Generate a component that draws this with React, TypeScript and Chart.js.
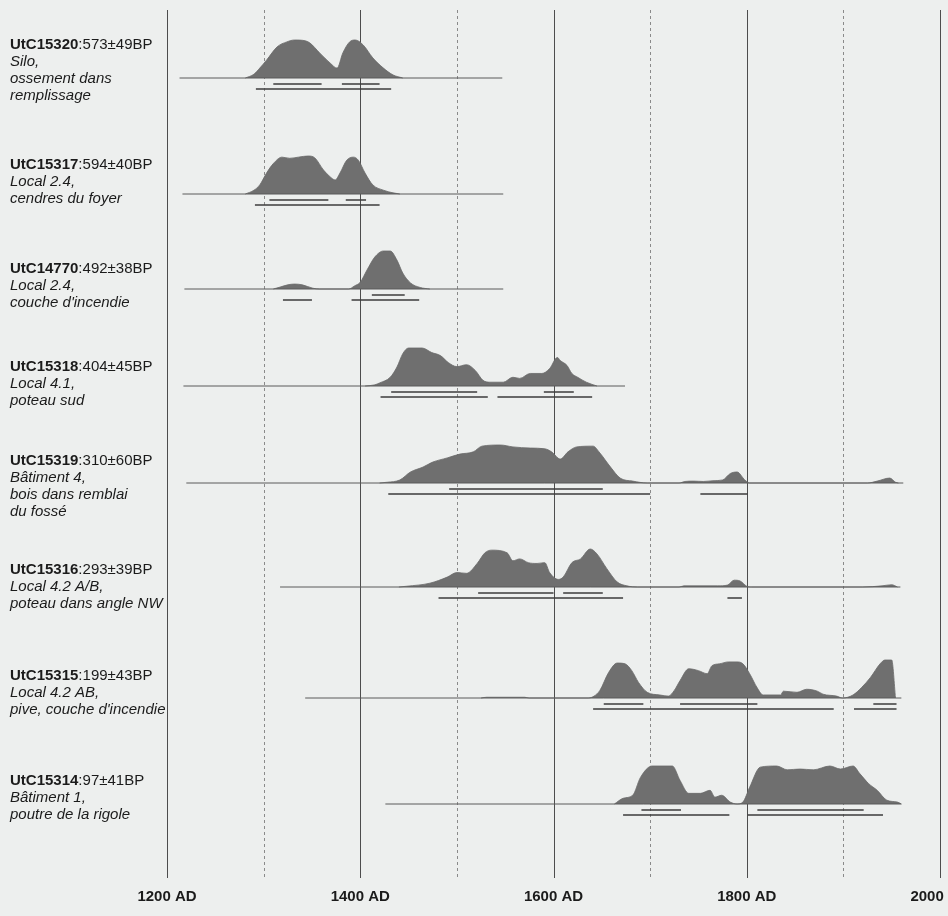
import React, { useEffect, useRef } from 'react';
import { Chart, registerables } from 'chart.js';

Chart.register(...registerables);

// ---------- DATA ----------
const SAMPLE_IDS = ['UtC15320', 'UtC15317', 'UtC14770', 'UtC15318', 'UtC15319', 'UtC15316', 'UtC15315', 'UtC15314'];
const SAMPLE_AGES = [':573±49BP', ':594±40BP', ':492±38BP', ':404±45BP', ':310±60BP', ':293±39BP', ':199±43BP', ':97±41BP'];
const SAMPLE_CONTEXTS = [
  ['Silo,', 'ossement dans', 'remplissage'],
  ['Local 2.4,', 'cendres du foyer'],
  ['Local 2.4,', "couche d'incendie"],
  ['Local 4.1,', 'poteau sud'],
  ['Bâtiment 4,', 'bois dans remblai', 'du fossé'],
  ['Local 4.2 A/B,', 'poteau dans angle NW'],
  ['Local 4.2 AB,', "pive, couche d'incendie"],
  ['Bâtiment 1,', 'poutre de la rigole'],
];

const X_TICKS = [1200, 1400, 1600, 1800, 2000];
const X_TICK_LABELS = ['1200 AD', '1400 AD', '1600 AD', '1800 AD', '2000 AD'];
const GRID_YEARS = [1200, 1300, 1400, 1500, 1600, 1700, 1800, 1900, 2000];

// baseline spans [from, to] (calendar years)
const SPANS = [
  [1213, 1547], [1216, 1548], [1218, 1548], [1217, 1674],
  [1220, 1962], [1317, 1959], [1343, 1960], [1426, 1960],
];

// probability curves: [year, relative probability]
const CURVE_15320 = [[1281,0],[1290,0.1],[1296,0.26],[1303,0.47],[1314,0.82],[1324,0.95],[1332,1],[1343,0.98],[1348,0.92],[1358,0.66],[1369,0.39],[1376,0.26],[1382,0.66],[1389,0.95],[1395,1],[1403,0.87],[1413,0.53],[1424,0.26],[1434,0.08],[1444,0]];
const CURVE_15317 = [[1281,0],[1290,0.1],[1296,0.24],[1303,0.55],[1310,0.8],[1319,0.97],[1327,0.94],[1336,0.97],[1346,1],[1353,0.95],[1362,0.63],[1369,0.45],[1374,0.37],[1379,0.55],[1386,0.89],[1393,0.97],[1398,0.89],[1405,0.55],[1413,0.24],[1424,0.1],[1434,0.03],[1441,0]];
const CURVE_14770 = [[1310,0],[1317,0.05],[1325,0.11],[1332,0.13],[1340,0.11],[1351,0.02],[1358,0],[1388,0],[1394,0.08],[1400,0.18],[1407,0.5],[1415,0.84],[1424,1],[1431,1],[1438,0.76],[1444,0.42],[1452,0.16],[1462,0.04],[1472,0]];
const CURVE_15318 = [[1405,0],[1415,0.03],[1420,0.08],[1431,0.23],[1438,0.5],[1444,0.85],[1450,1],[1464,1],[1474,0.88],[1483,0.8],[1491,0.62],[1500,0.51],[1510,0.56],[1519,0.41],[1527,0.15],[1534,0.1],[1548,0.1],[1558,0.23],[1565,0.2],[1576,0.33],[1588,0.33],[1596,0.46],[1604,0.75],[1607,0.67],[1614,0.54],[1619,0.33],[1625,0.23],[1634,0.1],[1645,0]];
const CURVE_15319 = [[1420,0],[1428,0.02],[1441,0.08],[1452,0.29],[1465,0.42],[1475,0.55],[1490,0.66],[1503,0.76],[1517,0.82],[1526,0.97],[1545,1],[1558,0.95],[1576,0.92],[1591,0.9],[1598,0.82],[1607,0.63],[1615,0.82],[1624,0.95],[1641,0.97],[1648,0.79],[1659,0.42],[1669,0.13],[1682,0.05],[1697,0],[1730,0],[1736,0.04],[1745,0.05],[1755,0.04],[1765,0.06],[1775,0.08],[1783,0.25],[1790,0.29],[1798,0.08],[1803,0],[1925,0],[1935,0.05],[1948,0.13],[1954,0.02],[1957,0]];
const CURVE_15316 = [[1440,0],[1448,0.02],[1472,0.1],[1490,0.26],[1500,0.38],[1510,0.36],[1521,0.62],[1529,0.9],[1536,0.97],[1552,0.9],[1558,0.69],[1565,0.74],[1574,0.64],[1583,0.62],[1591,0.64],[1596,0.38],[1605,0.2],[1610,0.26],[1619,0.64],[1628,0.74],[1638,1],[1645,0.87],[1655,0.49],[1666,0.13],[1676,0.03],[1687,0],[1730,0],[1735,0.03],[1770,0.03],[1780,0.05],[1787,0.18],[1793,0.16],[1800,0.02],[1805,0],[1920,0],[1940,0.03],[1950,0.06],[1956,0]];
const CURVE_15315 = [[1525,0],[1531,0.02],[1570,0.02],[1575,0],[1636,0],[1642,0.05],[1648,0.2],[1657,0.67],[1666,0.92],[1674,0.9],[1681,0.72],[1688,0.41],[1697,0.15],[1710,0.08],[1719,0.05],[1725,0.2],[1731,0.46],[1740,0.77],[1750,0.72],[1759,0.64],[1764,0.85],[1772,0.9],[1781,0.95],[1790,0.95],[1796,0.9],[1803,0.64],[1811,0.26],[1817,0.08],[1835,0.08],[1838,0.18],[1852,0.15],[1862,0.23],[1873,0.18],[1879,0.1],[1893,0.05],[1899,0],[1910,0.08],[1919,0.28],[1928,0.54],[1938,0.9],[1943,1],[1950,1],[1954,0]];
const CURVE_15314 = [[1663,0],[1672,0.15],[1682,0.23],[1690,0.7],[1702,1],[1723,1],[1731,0.62],[1740,0.28],[1752,0.28],[1762,0.36],[1767,0.18],[1774,0.23],[1783,0.05],[1790,0],[1796,0.05],[1803,0.44],[1814,0.97],[1831,1],[1842,0.9],[1855,0.92],[1869,0.9],[1886,1],[1897,0.92],[1910,1],[1917,0.8],[1926,0.54],[1935,0.36],[1945,0.1],[1956,0.05],[1960,0]];
const CURVES = [CURVE_15320, CURVE_15317, CURVE_14770, CURVE_15318, CURVE_15319, CURVE_15316, CURVE_15315, CURVE_15314];

// 68.2 % and 95.4 % probability ranges
const RANGES_68 = [
  [[1310,1360],[1381,1420]],
  [[1306,1367],[1385,1406]],
  [[1412,1446]],
  [[1432,1521],[1590,1621]],
  [[1492,1651]],
  [[1522,1600],[1610,1651]],
  [[1652,1693],[1731,1811],[1931,1955]],
  [[1691,1732],[1811,1921]],
];
const RANGES_95 = [
  [[1292,1432]],
  [[1291,1420]],
  [[1320,1350],[1391,1461]],
  [[1421,1532],[1542,1640]],
  [[1429,1700],[1752,1801]],
  [[1481,1672],[1780,1795]],
  [[1641,1890],[1911,1955]],
  [[1672,1782],[1801,1941]],
];

// ---------- LAYOUT ----------
const ROW_BASE = [68, 184, 279, 376, 473, 577, 688, 794]; // y-scale units (top = 0)
const PEAK_H = 38;
const R68_OFF = 6;
const R95_OFF = 11;
const LABEL_TOP = [45, 165, 269, 367, 461, 570, 676, 781]; // px, first line centre
const LINE_H = 17;
const FONT = '"Liberation Sans", Arial, Helvetica, sans-serif';

function segData(segs: number[][], y: number) {
  const out: any[] = [];
  segs.forEach((s, i) => {
    if (i > 0) out.push({ x: (segs[i - 1][1] + s[0]) / 2, y: null });
    out.push({ x: s[0], y }, { x: s[1], y });
  });
  return out;
}

const overlay = {
  id: 'oxcalOverlay',
  beforeDraw(chart: any) {
    const { ctx } = chart;
    ctx.save();
    ctx.fillStyle = '#edefee';
    ctx.fillRect(0, 0, chart.width, chart.height);
    ctx.restore();
  },
  beforeDatasetsDraw(chart: any) {
    const { ctx, chartArea, scales } = chart;
    const xs = scales.x;
    ctx.save();
    GRID_YEARS.forEach((yr) => {
      const px = Math.round(xs.getPixelForValue(yr)) + 0.5;
      const solid = yr % 200 === 0;
      ctx.beginPath();
      ctx.setLineDash(solid ? [] : [3, 3]);
      ctx.strokeStyle = solid ? '#4d4d4d' : '#8a8a8a';
      ctx.lineWidth = 1;
      ctx.moveTo(px, chartArea.top);
      ctx.lineTo(px, chartArea.bottom);
      ctx.stroke();
    });
    ctx.restore();
  },
  afterDraw(chart: any) {
    const { ctx, chartArea, scales } = chart;
    const xs = scales.x;
    ctx.save();
    ctx.fillStyle = '#1b1b1b';
    ctx.textBaseline = 'middle';
    // x tick labels
    ctx.font = `bold 15px ${FONT}`;
    ctx.textAlign = 'center';
    X_TICKS.forEach((t, i) => {
      ctx.fillText(X_TICK_LABELS[i], xs.getPixelForValue(t), chartArea.bottom + 19);
    });
    // sample labels
    ctx.textAlign = 'left';
    SAMPLE_IDS.forEach((id, i) => {
      let y = LABEL_TOP[i];
      ctx.font = `bold 15px ${FONT}`;
      ctx.fillText(id, 10, y);
      const w = ctx.measureText(id).width;
      ctx.font = `15px ${FONT}`;
      ctx.fillText(SAMPLE_AGES[i], 10 + w, y);
      ctx.font = `italic 15px ${FONT}`;
      SAMPLE_CONTEXTS[i].forEach((line) => {
        y += LINE_H;
        ctx.fillText(line, 10, y);
      });
    });
    ctx.restore();
  },
};

export default function App() {
  const ref = useRef<HTMLCanvasElement | null>(null);
  useEffect(() => {
    if (!ref.current) return;
    const datasets: any[] = [];
    CURVES.forEach((curve, i) => {
      const base = ROW_BASE[i];
      datasets.push({
        data: SPANS[i].map((x) => ({ x, y: base })),
        borderColor: '#5a5a5a', borderWidth: 1, pointRadius: 0, fill: false,
      });
      datasets.push({
        data: curve.map(([x, p]) => ({ x, y: base - p * PEAK_H })),
        borderColor: '#6a6a6a', borderWidth: 0.8, pointRadius: 0,
        backgroundColor: '#6f6f6f', fill: { value: base },
        cubicInterpolationMode: 'monotone',
      });
      datasets.push({
        data: segData(RANGES_68[i], base + R68_OFF),
        borderColor: '#3c3c3c', borderWidth: 1.6, pointRadius: 0, fill: false, spanGaps: false,
      });
      datasets.push({
        data: segData(RANGES_95[i], base + R95_OFF),
        borderColor: '#3c3c3c', borderWidth: 1.6, pointRadius: 0, fill: false, spanGaps: false,
      });
    });
    const chart = new Chart(ref.current, {
      type: 'line',
      data: { datasets },
      options: {
        animation: false,
        responsive: false,
        devicePixelRatio: 1,
        parsing: false,
        layout: { padding: { left: 167, right: 8, top: 10, bottom: 38 } },
        scales: {
          x: { type: 'linear', min: 1200, max: 2000, display: false },
          y: { type: 'linear', min: 0, max: 868, reverse: true, display: false },
        },
        plugins: { legend: { display: false }, tooltip: { enabled: false } },
        elements: { line: { borderCapStyle: 'butt' } },
      },
      plugins: [overlay],
    } as any);
    return () => chart.destroy();
  }, []);
  return (
    <div style={{ position: 'absolute', left: 0, top: 0, width: 948, height: 916, overflow: 'hidden' }}>
      <canvas ref={ref} width={948} height={916} style={{ display: 'block', width: 948, height: 916 }} />
    </div>
  );
}
